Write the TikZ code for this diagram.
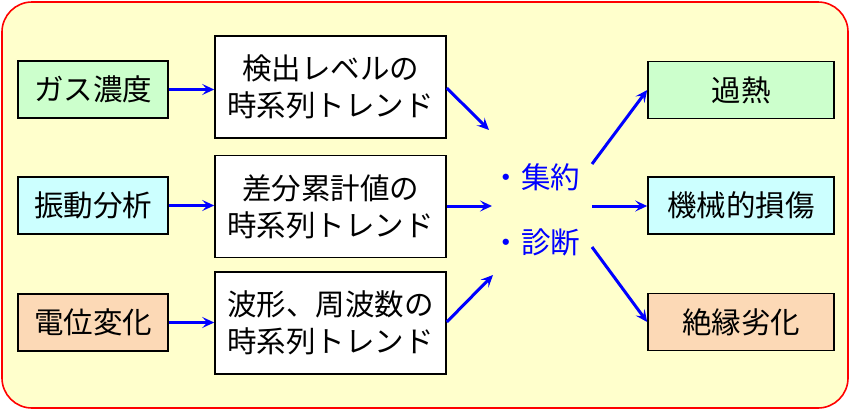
\documentclass[tikz,border=0pt]{standalone}
\usepackage{fontspec}
\setmainfont{Noto Sans CJK JP}
\usetikzlibrary{arrows.meta}
\definecolor{panelYellow}{HTML}{FFFFCC}
\definecolor{gasGreen}{HTML}{CCFFCC}
\definecolor{vibCyan}{HTML}{CCFFFF}
\definecolor{voltOrange}{HTML}{FCD9B6}

\begin{document}
\begin{tikzpicture}[x = 1pt, y = -1pt, font=\fontsize{29.5}{37}\selectfont]
	\tikzstyle{inputStyle}=[draw, line width = 1.6pt, minimum width = 150pt, minimum height = 57pt, inner sep = 0pt]
	\tikzstyle{trendStyle}=[draw, line width = 1.6pt, fill = white, minimum width = 231pt, minimum height = 102pt, align = center, inner sep = 0pt]
	\tikzstyle{resultStyle}=[draw, line width = 1.6pt, minimum width = 186pt, minimum height = 57pt, inner sep = 0pt]
	\tikzstyle{hubStyle}=[text = blue, inner sep = 0pt]
	\tikzstyle{flowStyle}=[draw = blue, line width = 3pt, -{Stealth[length = 12pt, width = 11pt, inset = 5pt]}]
	\useasboundingbox (0,0) rectangle (850,410);
	\draw[red, line width = 1.6pt, fill = panelYellow, rounded corners = 30pt] (2,2) rectangle (848,408);
	\node[inputStyle, fill = gasGreen] (gas) at (93,89.5) {ガス濃度};
	\node[inputStyle, fill = vibCyan] (vib) at (93,205.5) {振動分析};
	\node[inputStyle, fill = voltOrange] (volt) at (93,322.5) {電位変化};
	\node[trendStyle] (trendA) at (330.5,87) {検出レベルの\\時系列トレンド};
	\node[trendStyle] (trendB) at (330.5,206.5) {差分累計値の\\時系列トレンド};
	\node[trendStyle] (trendC) at (330.5,323) {波形、周波数の\\時系列トレンド};
	\node[hubStyle] (collect) at (536,177) {・集約};
	\node[hubStyle] (diagnose) at (536,242) {・診断};
	\node[resultStyle, fill = gasGreen] (heat) at (741,90) {過熱};
	\node[resultStyle, fill = vibCyan] (damage) at (741,205.5) {機械的損傷};
	\node[resultStyle, fill = voltOrange] (insul) at (741,322) {絶縁劣化};
	\coordinate (inA) at (489,130);
	\coordinate (inB) at (492,206);
	\coordinate (inC) at (493,275);
	\coordinate (outA) at (592,164);
	\coordinate (outB) at (592,206);
	\coordinate (outC) at (592,247);
	\draw[flowStyle] (gas) -- (trendA.west |- gas);
	\draw[flowStyle] (vib) -- (trendB.west |- vib);
	\draw[flowStyle] (volt) -- (trendC.west |- volt);
	\draw[flowStyle] (trendA.east |- 0,88) -- (inA);
	\draw[flowStyle] (trendB.east |- inB) -- (inB);
	\draw[flowStyle] (trendC.east |- 0,322) -- (inC);
	\draw[flowStyle] (outA) -- (heat.west);
	\draw[flowStyle] (outB) -- (damage.west |- outB);
	\draw[flowStyle] (outC) -- (insul.west);
\end{tikzpicture}
\end{document}
